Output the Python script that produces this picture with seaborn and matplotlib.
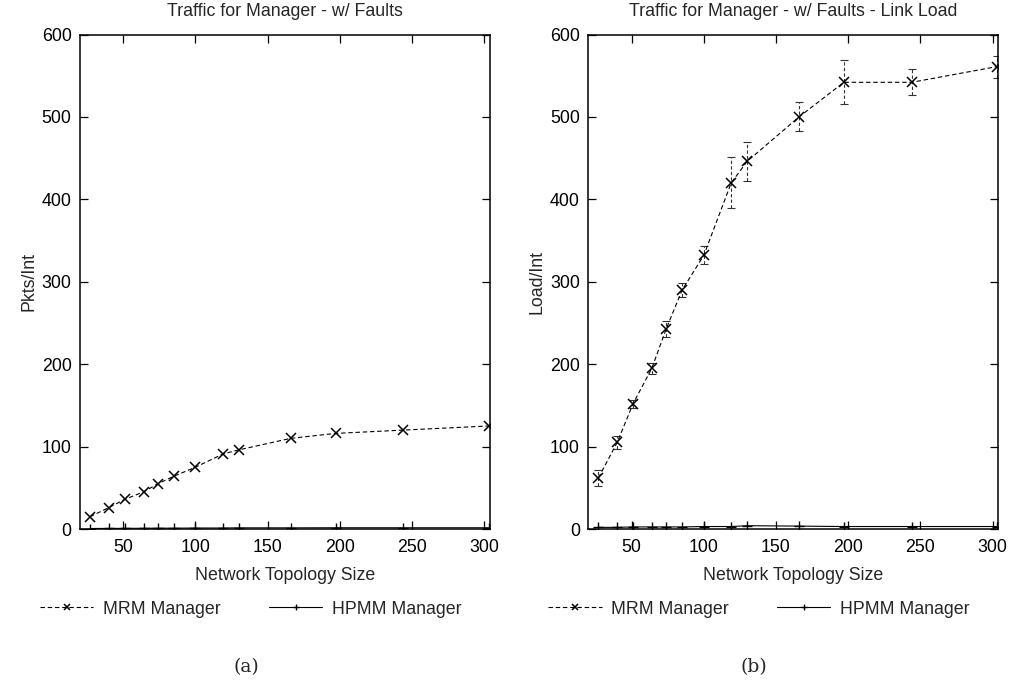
import matplotlib
matplotlib.use("Agg")
import matplotlib.pyplot as plt
import seaborn as sns
import pandas as pd
import numpy as np

# ---- data ----
topology_size = [27, 40, 51, 64, 74, 85, 100, 119, 130, 166, 197, 244, 303]

mrm_pkts = [15, 26, 36, 45, 55, 64, 75, 91, 96, 110, 116, 120, 125]
hpmm_pkts = [0.6, 0.7, 0.8, 0.9, 1.0, 1.0, 1.2, 1.2, 1.4, 1.4, 1.5, 1.5, 1.5]

mrm_load = [62, 105, 152, 195, 243, 290, 332, 420, 446, 500, 542, 542, 561]
mrm_load_err = [10, 7.5, 5, 7, 9.5, 9, 11, 31, 24, 17.5, 26.5, 16, 13.5]
hpmm_load = [2, 2, 2.5, 2.5, 2.5, 2.5, 3, 3, 4, 3.5, 3, 3, 3]

titles = ["Traffic for Manager - w/ Faults", "Traffic for Manager - w/ Faults - Link Load"]
ylabels = ["Pkts/Int", "Load/Int"]
xlabel = "Network Topology Size"
series_names = ["MRM Manager", "HPMM Manager"]
panel_tags = ["(a)", "(b)"]
x_ticks = [50, 100, 150, 200, 250, 300]
y_ticks = [0, 100, 200, 300, 400, 500, 600]

sns.set_style("ticks")
plt.rcParams["font.family"] = ["Liberation Sans", "DejaVu Sans"]
FS = 12.8
plt.rcParams["font.size"] = FS

W, H = 1010, 688
fig = plt.figure(figsize=(W / 100, H / 100), dpi=100)

ax_left_px = [80, 588.3]
ax_w_px = 410
ax_top_px, ax_bot_px = 34.5, 529

panels = [
    (mrm_pkts, None, hpmm_pkts),
    (mrm_load, mrm_load_err, hpmm_load),
]

for i, (mrm, err, hpmm) in enumerate(panels):
    ax = fig.add_axes([ax_left_px[i] / W, 1 - ax_bot_px / H,
                       ax_w_px / W, (ax_bot_px - ax_top_px) / H])
    df = pd.DataFrame({"size": topology_size, "mrm": mrm, "hpmm": hpmm})
    if err is not None:
        eb = ax.errorbar(df["size"], df["mrm"], yerr=err, fmt="none",
                         ecolor="#333333", elinewidth=0.8, capsize=3,
                         capthick=0.8)
        for c in eb[2]:
            c.set_linestyle((0, (3, 2)))
    sns.lineplot(data=df, x="size", y="mrm", ax=ax, color="black",
                 linestyle=(0, (4, 2.5)), linewidth=0.8, marker="x",
                 markersize=7, markeredgewidth=1.1, markeredgecolor="black",
                 markerfacecolor="black", label=series_names[0])
    sns.lineplot(data=df, x="size", y="hpmm", ax=ax, color="black",
                 linestyle="-", linewidth=0.8, marker="+",
                 markersize=7, markeredgewidth=1.0, markeredgecolor="black",
                 markerfacecolor="black", label=series_names[1])

    ax.set_xlim(20, 304)
    ax.set_ylim(0, 600)
    ax.set_xticks(x_ticks)
    ax.set_yticks(y_ticks)
    ax.tick_params(direction="in", top=True, right=True, length=6,
                   width=0.9, labelsize=FS, colors="black")
    ax.tick_params(axis="x", pad=7)
    ax.tick_params(axis="y", pad=6)
    for sp in ax.spines.values():
        sp.set_visible(True)
        sp.set_linewidth(1.1)
        sp.set_color("black")
    ax.set_title(titles[i], fontsize=FS, pad=13)
    ax.set_xlabel(xlabel, fontsize=FS, labelpad=8)
    ax.set_ylabel(ylabels[i], fontsize=FS, labelpad=3)

    handles, labels = ax.get_legend_handles_labels()
    ax.legend(handles, labels, loc="center left",
              bbox_to_anchor=((ax_left_px[i] - 40) / W, 1 - 609 / H),
              bbox_transform=fig.transFigure, ncol=2, frameon=False,
              borderpad=0, borderaxespad=0, handlelength=3.0,
              handletextpad=0.55, columnspacing=2.7, fontsize=FS,
              markerscale=0.7)

    fig.text((ax_left_px[i] + 166) / W, 1 - 667 / H, panel_tags[i],
             ha="center", va="center", fontsize=13.5,
             family=["DejaVu Serif"])

fig.savefig("out.png", dpi=100, facecolor="white")
